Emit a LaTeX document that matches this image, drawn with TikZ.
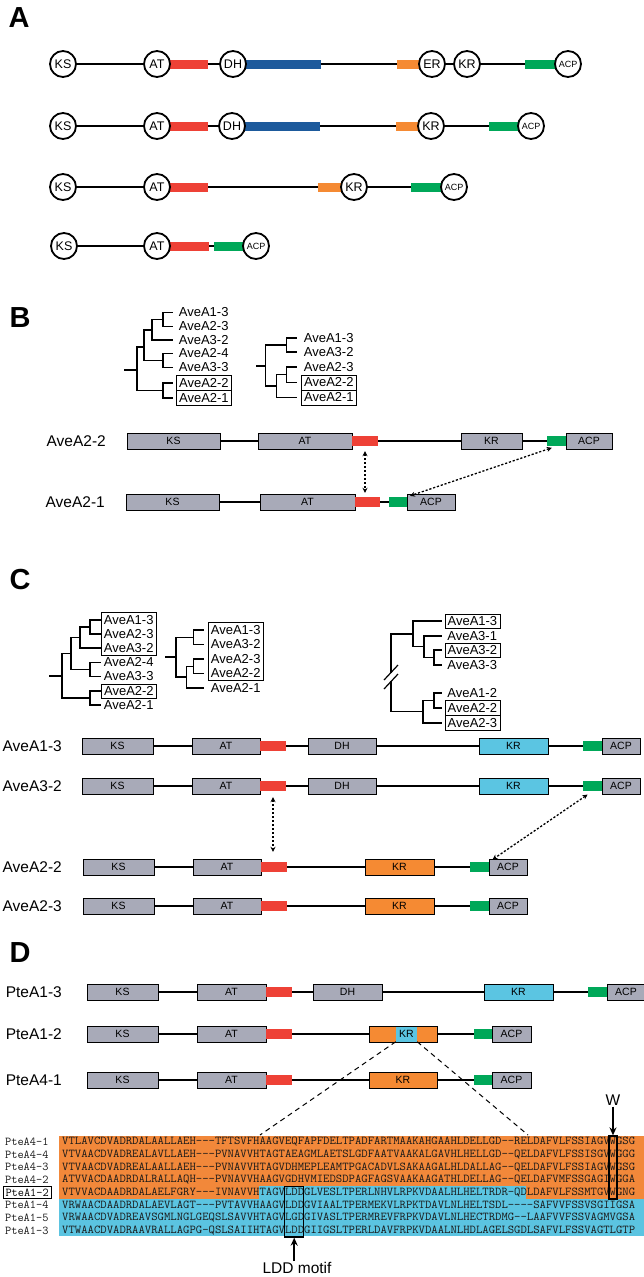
\documentclass[tikz,border=0pt]{standalone}
\usepackage{fontspec}
\usepackage{graphicx}
\setmainfont{Liberation Sans}
\usetikzlibrary{arrows.meta}
\definecolor{domgray}{RGB}{168,170,184}
\definecolor{redbar}{RGB}{238,65,54}
\definecolor{bluebar}{RGB}{29,90,156}
\definecolor{orangebar}{RGB}{245,138,51}
\definecolor{greenbar}{RGB}{0,168,89}
\definecolor{cyanbox}{RGB}{91,197,226}
\definecolor{alorange}{RGB}{242,136,58}
\definecolor{alblue}{RGB}{91,196,225}
\def\hy{-\kern0pt}
\newcommand{\sqline}[1]{\resizebox{573pt}{\height}{#1}}
\tikzset{
  circdom/.style={circle,draw,fill=white,line width=1.8pt,minimum size=26pt,inner sep=0pt,font=\fontsize{12.5}{12.5}\selectfont},
  smallcirc/.style={circdom,font=\fontsize{9}{9}\selectfont},
  cbar/.style={rectangle,inner sep=0pt,minimum height=9pt},
  bb/.style={line width=1.3pt},
  dom/.style={rectangle,draw,line width=1pt,fill=domgray,inner sep=0pt,minimum height=16pt,font=\fontsize{10.5}{10.5}\selectfont},
  lbar/.style={rectangle,inner sep=0pt,minimum height=10pt},
  rowlab/.style={anchor=east,inner sep=0pt,font=\fontsize{15.5}{15.5}\selectfont},
  tlab/.style={anchor=west,inner sep=0pt,minimum width=55pt,minimum height=14pt,font=\fontsize{13}{13}\selectfont},
  tbox/.style={tlab,draw,line width=0.8pt},
  tbox2/.style={tbox,minimum height=15pt},
  tree/.style={line width=1.2pt,line cap=rect},
  tick/.style={line width=1.2pt},
  panel/.style={inner sep=0pt,font=\fontsize{29}{29}\selectfont\bfseries},
  dar/.style={line width=1.3pt,dash pattern=on 2.2pt off 1.8pt,{Stealth[length=5pt,width=5pt]}-{Stealth[length=5pt,width=5pt]}},
  seq/.style={anchor=west,inner sep=0pt,text=black!90,font=\ttfamily\fontsize{12}{12}\selectfont},
  arr/.style={line width=1.6pt,-{Stealth[length=8pt,width=7pt]}},
}
\begin{document}
\begin{tikzpicture}[x=1pt,y=-1pt]
\useasboundingbox (0,0) rectangle (644,1277);
%================ Panel A
\node[panel] (pA) at (19,18) {A};
% row 1
\node[cbar,fill=redbar,minimum width=38pt] (a1r) at (189,64) {};
\node[cbar,fill=bluebar,minimum width=75pt] (a1b) at (283.5,64) {};
\node[cbar,fill=orangebar,minimum width=23pt] (a1o) at (408.5,64) {};
\node[cbar,fill=greenbar,minimum width=31pt] (a1g) at (540.5,64) {};
\node[circdom] (a1ks) at (63,64) {KS};
\node[circdom] (a1at) at (157,64) {AT};
\node[circdom] (a1dh) at (233,64) {DH};
\node[circdom] (a1er) at (432,64) {ER};
\node[circdom] (a1kr) at (467,64) {KR};
\node[smallcirc] (a1acp) at (568,64) {ACP};
\draw[bb] (a1ks) -- (a1at) (a1r) -- (a1dh) (a1b) -- (a1o) (a1er) -- (a1kr) (a1kr) -- (a1g);
% row 2
\node[cbar,fill=redbar,minimum width=38pt] (a2r) at (189,126) {};
\node[cbar,fill=bluebar,minimum width=75pt] (a2b) at (282.5,126) {};
\node[cbar,fill=orangebar,minimum width=23pt] (a2o) at (407.5,126) {};
\node[cbar,fill=greenbar,minimum width=29pt] (a2g) at (503.5,126) {};
\node[circdom] (a2ks) at (63,126) {KS};
\node[circdom] (a2at) at (157,126) {AT};
\node[circdom] (a2dh) at (232,126) {DH};
\node[circdom] (a2kr) at (431,126) {KR};
\node[smallcirc] (a2acp) at (531,126) {ACP};
\draw[bb] (a2ks) -- (a2at) (a2r) -- (a2dh) (a2b) -- (a2o) (a2kr) -- (a2g);
% row 3
\node[cbar,fill=redbar,minimum width=38pt] (a3r) at (189,187) {};
\node[cbar,fill=orangebar,minimum width=23pt] (a3o) at (329.5,187) {};
\node[cbar,fill=greenbar,minimum width=30pt] (a3g) at (426,187) {};
\node[circdom] (a3ks) at (63,187) {KS};
\node[circdom] (a3at) at (157,187) {AT};
\node[circdom] (a3kr) at (354,187) {KR};
\node[smallcirc] (a3acp) at (454,187) {ACP};
\draw[bb] (a3ks) -- (a3at) (a3r) -- (a3o) (a3kr) -- (a3g);
% row 4
\node[cbar,fill=redbar,minimum width=39pt] (a4r) at (189.5,246) {};
\node[cbar,fill=greenbar,minimum width=29pt] (a4g) at (228.5,246) {};
\node[circdom] (a4ks) at (64,246) {KS};
\node[circdom] (a4at) at (157,246) {AT};
\node[smallcirc] (a4acp) at (256,246) {ACP};
\draw[bb] (a4ks) -- (a4at) (a4r) -- (a4g);

%================ Panel B
\node[panel] (pB) at (20,318) {B};
% left tree
\node[tlab] (bl1) at (176,312.5) {AveA1-3};
\node[tlab] (bl2) at (176,326.5) {AveA2-3};
\node[tlab] (bl3) at (176,340) {AveA3-2};
\node[tlab] (bl4) at (176,353.5) {AveA2-4};
\node[tlab] (bl5) at (176,367.5) {AveA3-3};
\node[tbox2] (bl6) at (176,383) {AveA2-2};
\node[tbox2] (bl7) at (176,398) {AveA2-1};
\draw[tree] (125,370) -- (137,370) (137,347) -- (137,390.5)
  (137,347) -- (144,347) (144,330) -- (144,360.5)
  (144,330) -- (152,330) (152,319.5) -- (152,340)
  (152,319.5) -- (163,319.5) (163,312.5) -- (163,326.5)
  (144,360.5) -- (163,360.5) (163,353.5) -- (163,367.5)
  (137,390.5) -- (163,390.5) (163,383) -- (163,398);
\draw[tick,shorten >=3pt] (163,312.5) -- (bl1.west);
\draw[tick,shorten >=3pt] (163,326.5) -- (bl2.west);
\draw[tick,shorten >=3pt] (152,340) -- (bl3.west);
\draw[tick,shorten >=3pt] (163,353.5) -- (bl4.west);
\draw[tick,shorten >=3pt] (163,367.5) -- (bl5.west);
\draw[tick,shorten >=3pt] (163,383) -- (bl6.west);
\draw[tick,shorten >=3pt] (163,398) -- (bl7.west);
% right tree
\node[tlab] (br1) at (301,338) {AveA1-3};
\node[tlab] (br2) at (301,352) {AveA3-2};
\node[tlab] (br3) at (301,367) {AveA2-3};
\node[tbox2] (br4) at (301,382.5) {AveA2-2};
\node[tbox2] (br5) at (301,397.5) {AveA2-1};
\draw[tree] (257,366) -- (265.7,366) (265.7,345) -- (265.7,386)
  (265.7,345) -- (286.7,345) (286.7,338) -- (286.7,352)
  (265.7,386) -- (276.7,386) (276.7,374.75) -- (276.7,397.5)
  (276.7,374.75) -- (286.7,374.75) (286.7,367) -- (286.7,382.5);
\draw[tick,shorten >=4pt] (286.7,338) -- (br1.west);
\draw[tick,shorten >=4pt] (286.7,352) -- (br2.west);
\draw[tick,shorten >=4pt] (286.7,367) -- (br3.west);
\draw[tick,shorten >=4pt] (286.7,382.5) -- (br4.west);
\draw[tick,shorten >=4pt] (276.7,397.5) -- (br5.west);
% domain rows
\node[rowlab] (bn1) at (106,441) {AveA2-2};
\node[rowlab] (bn2) at (105,502) {AveA2-1};
\node[dom,minimum width=93pt] (b1ks) at (173.5,441) {KS};
\node[dom,minimum width=94pt] (b1at) at (305,441) {AT};
\node[lbar,fill=redbar,minimum width=26pt] (b1r) at (365,441) {};
\node[dom,minimum width=61pt] (b1kr) at (491.5,441) {KR};
\node[lbar,fill=greenbar,minimum width=19pt] (b1g) at (556.5,441) {};
\node[dom,minimum width=46pt] (b1acp) at (589,441) {ACP};
\draw[bb] (b1ks) -- (b1at) (b1r) -- (b1kr) (b1kr) -- (b1g);
\node[dom,minimum width=93pt] (b2ks) at (172.5,502) {KS};
\node[dom,minimum width=95pt] (b2at) at (307.5,502) {AT};
\node[lbar,fill=redbar,minimum width=25pt] (b2r) at (367.5,502) {};
\node[lbar,fill=greenbar,minimum width=18pt] (b2g) at (398,502) {};
\node[dom,minimum width=48pt] (b2acp) at (431,502) {ACP};
\draw[bb] (b2ks) -- (b2at) (b2r) -- (b2g);
\draw[dar,shorten <=5pt,shorten >=4pt] (b1r.south) -- (b1r.south |- b2r.north);
\draw[dar,shorten <=5pt,shorten >=3pt] (b1g.south) -- (b2g.north east);

%================ Panel C
\node[panel] (pC) at (20,580) {C};
% left tree
\node[tlab] (cl1) at (101,620) {AveA1-3};
\node[tlab] (cl2) at (101,634) {AveA2-3};
\node[tlab] (cl3) at (101,648) {AveA3-2};
\node[tlab] (cl4) at (101,662.5) {AveA2-4};
\node[tlab] (cl5) at (101,676.5) {AveA3-3};
\node[tbox] (cl6) at (101,691) {AveA2-2};
\node[tlab] (cl7) at (101,705) {AveA2-1};
\draw[line width=0.8pt] (cl1.north west) rectangle (cl3.south east);
\draw[tree] (50,676) -- (62,676) (62,653.5) -- (62,698)
  (62,653.5) -- (71,653.5) (71,637.5) -- (71,669.5)
  (71,637.5) -- (80,637.5) (80,627) -- (80,648)
  (80,627) -- (90,627) (90,620) -- (90,634)
  (71,669.5) -- (90,669.5) (90,662.5) -- (90,676.5)
  (62,698) -- (90,698) (90,691) -- (90,705);
\draw[tick] (90,620) -- (cl1.west);
\draw[tick] (90,634) -- (cl2.west);
\draw[tick] (80,648) -- (cl3.west);
\draw[tick] (90,662.5) -- (cl4.west);
\draw[tick] (90,676.5) -- (cl5.west);
\draw[tick] (90,691) -- (cl6.west);
\draw[tick] (90,705) -- (cl7.west);
% middle tree
\node[tlab] (cm1) at (208,630) {AveA1-3};
\node[tlab] (cm2) at (208,644.5) {AveA3-2};
\node[tlab] (cm3) at (208,659) {AveA2-3};
\node[tlab] (cm4) at (208,673.5) {AveA2-2};
\node[tlab] (cm5) at (208,688) {AveA2-1};
\draw[line width=0.8pt] (cm1.north west) rectangle (cm4.south east);
\draw[tree] (166,657) -- (176,657) (176,637.25) -- (176,677)
  (176,637.25) -- (193.4,637.25) (193.4,630) -- (193.4,644.5)
  (176,677) -- (186.4,677) (186.4,666.25) -- (186.4,688)
  (186.4,666.25) -- (193.4,666.25) (193.4,659) -- (193.4,673.5);
\draw[tick,shorten >=4pt] (193.4,630) -- (cm1.west);
\draw[tick,shorten >=4pt] (193.4,644.5) -- (cm2.west);
\draw[tick,shorten >=4pt] (193.4,659) -- (cm3.west);
\draw[tick,shorten >=4pt] (193.4,673.5) -- (cm4.west);
\draw[tick,shorten >=4pt] (186.4,688) -- (cm5.west);
% right tree
\node[tbox] (cr1) at (444.5,621) {AveA1-3};
\node[tlab] (cr2) at (444.5,636) {AveA3-1};
\node[tbox] (cr3) at (444.5,650) {AveA3-2};
\node[tlab] (cr4) at (444.5,665) {AveA3-3};
\node[tlab] (cr5) at (444.5,693) {AveA1-2};
\node[tbox2] (cr6) at (444.5,708) {AveA2-2};
\node[tbox2] (cr7) at (444.5,723) {AveA2-3};
\draw[tree] (391,633.9) -- (391,672.5) (391,681.5) -- (391,711.75)
  (391,633.9) -- (413,633.9) (413,621) -- (413,646.75)
  (413,646.75) -- (424,646.75) (424,636) -- (424,657.5)
  (424,657.5) -- (434,657.5) (434,650) -- (434,665)
  (391,711.75) -- (423,711.75) (423,700.5) -- (423,723)
  (423,700.5) -- (434,700.5) (434,693) -- (434,708);
\draw[tick] (384,680) -- (398,665) (384,689) -- (398,674);
\draw[tick,shorten >=2.5pt] (413,621) -- (cr1.west);
\draw[tick,shorten >=2.5pt] (424,636) -- (cr2.west);
\draw[tick,shorten >=2.5pt] (434,650) -- (cr3.west);
\draw[tick,shorten >=2.5pt] (434,665) -- (cr4.west);
\draw[tick,shorten >=2.5pt] (434,693) -- (cr5.west);
\draw[tick,shorten >=2.5pt] (434,708) -- (cr6.west);
\draw[tick,shorten >=2.5pt] (423,723) -- (cr7.west);
% domain rows
\node[rowlab] (cn1) at (62,746) {AveA1-3};
\node[rowlab] (cn2) at (62,786) {AveA3-2};
\node[rowlab] (cn3) at (62,867) {AveA2-2};
\node[rowlab] (cn4) at (62,906) {AveA2-3};
\foreach \r/\y in {1/746,2/786}{
  \node[dom,minimum width=71pt] (c\r ks) at (117.5,\y) {KS};
  \node[dom,minimum width=68pt] (c\r at) at (226,\y) {AT};
  \node[lbar,fill=redbar,minimum width=26pt] (c\r r) at (273,\y) {};
  \node[dom,minimum width=68pt] (c\r dh) at (342,\y) {DH};
  \node[dom,fill=cyanbox,minimum width=69pt] (c\r kr) at (513.5,\y) {KR};
  \node[lbar,fill=greenbar,minimum width=19pt] (c\r g) at (592.5,\y) {};
  \node[dom,minimum width=38pt] (c\r acp) at (621,\y) {ACP};
  \draw[bb] (c\r ks) -- (c\r at) (c\r r) -- (c\r dh) (c\r dh) -- (c\r kr) (c\r kr) -- (c\r g);
}
\foreach \r/\y in {3/867,4/906}{
  \node[dom,minimum width=71pt] (c\r ks) at (118.5,\y) {KS};
  \node[dom,minimum width=68pt] (c\r at) at (227,\y) {AT};
  \node[lbar,fill=redbar,minimum width=26pt] (c\r r) at (274,\y) {};
  \node[dom,fill=orangebar,minimum width=69pt] (c\r kr) at (399.5,\y) {KR};
  \node[lbar,fill=greenbar,minimum width=19pt] (c\r g) at (479.5,\y) {};
  \node[dom,minimum width=38pt] (c\r acp) at (508,\y) {ACP};
  \draw[bb] (c\r ks) -- (c\r at) (c\r r) -- (c\r kr) (c\r kr) -- (c\r g);
}
\draw[dar,shorten <=6pt,shorten >=10pt] (c2r.south) -- (c2r.south |- c3r.north);
\draw[dar,shorten <=6pt,shorten >=4pt] (c2g.south) -- (c3g.north east);

%================ Panel D
\node[panel] (pD) at (20,953) {D};
\node[rowlab] (dn1) at (62,992) {PteA1-3};
\node[rowlab] (dn2) at (62,1034) {PteA1-2};
\node[rowlab] (dn3) at (62,1080) {PteA4-1};
\node[dom,minimum width=71pt] (d1ks) at (122.5,992) {KS};
\node[dom,minimum width=69pt] (d1at) at (231.5,992) {AT};
\node[lbar,fill=redbar,minimum width=26pt] (d1r) at (279,992) {};
\node[dom,minimum width=69pt] (d1dh) at (347.5,992) {DH};
\node[dom,fill=cyanbox,minimum width=69pt] (d1kr) at (518.5,992) {KR};
\node[lbar,fill=greenbar,minimum width=19pt] (d1g) at (597.5,992) {};
\node[dom,minimum width=38pt] (d1acp) at (626,992) {ACP};
\draw[bb] (d1ks) -- (d1at) (d1r) -- (d1dh) (d1dh) -- (d1kr) (d1kr) -- (d1g);
\foreach \r/\y in {2/1034,3/1080}{
  \node[dom,minimum width=71pt] (d\r ks) at (122.5,\y) {KS};
  \node[dom,minimum width=69pt] (d\r at) at (231.5,\y) {AT};
  \node[lbar,fill=redbar,minimum width=26pt] (d\r r) at (279,\y) {};
  \node[dom,fill=orangebar,minimum width=68pt] (d\r kr) at (403,\y) {};
  \node[lbar,fill=greenbar,minimum width=18pt] (d\r g) at (483,\y) {};
  \node[dom,minimum width=39pt] (d\r acp) at (511.5,\y) {ACP};
  \draw[bb] (d\r ks) -- (d\r at) (d\r r) -- (d\r kr) (d\r kr) -- (d\r g);
}
\node[inner sep=0pt,fill=cyanbox,minimum width=21pt,minimum height=15pt,font=\fontsize{10.5}{10.5}\selectfont] (d2c) at (406.5,1034) {KR};
\node[inner sep=0pt,font=\fontsize{10.5}{10.5}\selectfont] (d3t) at (403,1080) {KR};
% alignment
\fill[alorange] (59,1136) rectangle (644,1186.3);
\fill[alorange] (59,1186.3) rectangle (259.2,1198.95);
\fill[alblue] (259.2,1186.3) rectangle (526.3,1198.95);
\fill[alorange] (526.3,1186.3) rectangle (644,1198.95);
\fill[alblue] (59,1198.95) rectangle (644,1236);
\coordinate (al) at (260,1135);
\coordinate (ar) at (528,1135);
\draw[line width=1pt,dash pattern=on 5pt off 4pt] (d2c.south west) -- (al);
\draw[line width=1pt,dash pattern=on 5pt off 4pt] (d2c.south east) -- (ar);
\node[seq] (n1) at (5,1142) {PteA4\hy 1};
\node[seq] (n2) at (5,1154.65) {PteA4\hy 4};
\node[seq] (n3) at (5,1167.3) {PteA4\hy 3};
\node[seq] (n4) at (5,1179.95) {PteA4\hy 2};
\node[seq,draw=black,text=black,line width=1pt,inner xsep=2.5pt,inner ysep=2pt] (n5) at (2.5,1192.6) {PteA1\hy 2};
\node[seq] (n6) at (5,1205.25) {PteA1\hy 4};
\node[seq] (n7) at (5,1217.9) {PteA1\hy 5};
\node[seq] (n8) at (5,1230.55) {PteA1\hy 3};
\node[seq] (s1) at (62,1142) {\sqline{VTLAVCDVADRDALAALLAEH\hy\hy\hy TFTSVFHAAGVEQFAPFDELTPADFARTMAAKAHGAAHLDELLGD\hy\hy RELDAFVLFSSIAGVWGSG}};
\node[seq] (s2) at (62,1154.65) {\sqline{VTVAACDVADREALAVLLAEH\hy\hy\hy PVNAVVHTAGTAEAGMLAETSLGDFAATVAAKALGAVHLHELLGD\hy\hy QELDAFVLFSSISGVWGGG}};
\node[seq] (s3) at (62,1167.3) {\sqline{VTVAACDVADREALAALLAEH\hy\hy\hy PVNAVVHTAGVDHMEPLEAMTPGACADVLSAKAAGALHLDALLAG\hy\hy QELDAFVLFSSIAGVWGSG}};
\node[seq] (s4) at (62,1179.95) {\sqline{ATVVACDAADRDALRALLAQH\hy\hy\hy PVNAVVHAAGVGDHVMIEDSDPAGFAGSVAAKAAGATHLDELLAG\hy\hy QELDAFVMFSSGAGIWGGA}};
\node[seq] (s5) at (62,1192.6) {\sqline{VTVVACDAADRDALAELFGRY\hy\hy\hy IVNAVVHTAGVLDDGLVESLTPERLNHVLRPKVDAALHLHELTRDR\hy QDLDAFVLFSSMTGVWGNG}};
\node[seq] (s6) at (62,1205.25) {\sqline{VRWAACDAADRDALAEVLAGT\hy\hy\hy PVTAVVHAAGVLDDGVIAALTPERMEKVLRPKTDAVLNLHELTSDL\hy\hy\hy\hy SAFVVFSSVSGIIGSA}};
\node[seq] (s7) at (62,1217.9) {\sqline{VRWAACDVADREAVSGMLNGLGEQSLSAVVHTAGVLGDGIVASLTPERMREVFRPKVDAVLNLHECTRDMG\hy\hy LAAFVVFSSVAGMVGSA}};
\node[seq] (s8) at (62,1230.55) {\sqline{VTWAACDVADRAAVRALLAGPG\hy QSLSAIIHTAGVLDDGIIGSLTPERLDAVFRPKVDAALNLHDLAGELSGDLSAFVLFSSVAGTLGTP}};
\node[draw,line width=1.3pt,inner sep=0pt,minimum width=19pt,minimum height=50.7pt] (ldd) at (294.2,1211.65) {};
\node[draw,line width=1.3pt,inner sep=0pt,minimum width=8pt,minimum height=63pt] (wbx) at (613,1167.5) {};
\node[inner sep=1pt,font=\fontsize{15.5}{15.5}\selectfont] (wl) at (613,1100) {W};
\node[inner sep=1pt,font=\fontsize{15.5}{15.5}\selectfont] (lddl) at (297,1268) {LDD motif};
\draw[arr] (wl) -- (wbx.north);
\draw[arr] (lddl.north -| ldd.south) -- (ldd.south);
\end{tikzpicture}
\end{document}
